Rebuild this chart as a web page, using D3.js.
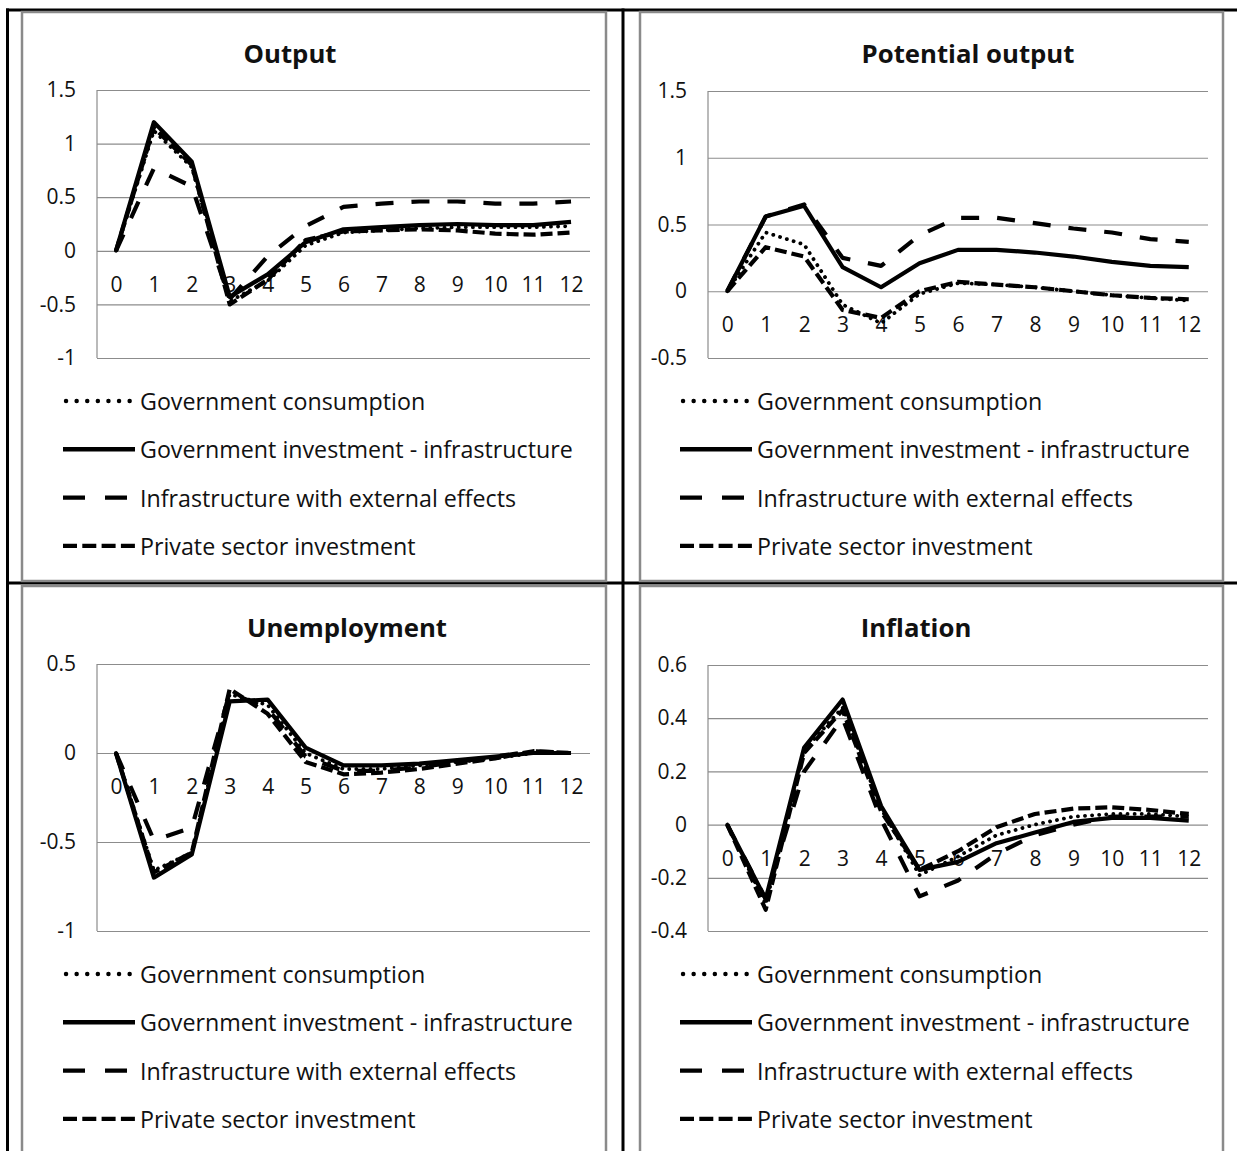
<!DOCTYPE html>
<html><head><meta charset="utf-8">
<script src="https://cdn.jsdelivr.net/npm/d3@7"></script>
<style>
html,body{margin:0;padding:0;background:#fff;}
svg{display:block;}
text{font-family:"Open Sans","Noto Sans",sans-serif;fill:#111;}
</style></head>
<body>
<svg id="c" width="1237" height="1151"></svg>
<script>
// ---------- DATA ----------
const periods = ["0","1","2","3","4","5","6","7","8","9","10","11","12"];
const seriesNames = ["Government consumption","Government investment - infrastructure","Infrastructure with external effects","Private sector investment"];
const panelTitles = ["Output","Potential output","Unemployment","Inflation"];

const outputGovCons   = [0,1.12,0.78,-0.47,-0.28,0.05,0.17,0.19,0.21,0.22,0.22,0.22,0.23];
const outputGovInv    = [0,1.20,0.83,-0.43,-0.22,0.08,0.20,0.22,0.24,0.25,0.24,0.24,0.27];
const outputInfraExt  = [0,0.77,0.60,-0.45,-0.05,0.23,0.41,0.44,0.46,0.46,0.44,0.44,0.46];
const outputPrivate   = [0,1.15,0.80,-0.50,-0.27,0.10,0.18,0.19,0.20,0.19,0.16,0.15,0.17];

const potGovCons      = [0,0.44,0.35,-0.10,-0.24,-0.02,0.06,0.05,0.03,0.00,-0.03,-0.05,-0.07];
const potGovInv       = [0,0.56,0.64,0.18,0.03,0.21,0.31,0.31,0.29,0.26,0.22,0.19,0.18];
const potInfraExt     = [0,0.56,0.65,0.25,0.19,0.42,0.55,0.55,0.51,0.47,0.44,0.39,0.37];
const potPrivate      = [0,0.33,0.26,-0.14,-0.20,0.00,0.07,0.05,0.03,0.00,-0.03,-0.05,-0.06];

const unGovCons       = [0,-0.66,-0.56,0.33,0.27,0.00,-0.09,-0.09,-0.07,-0.05,-0.03,0.00,0.00];
const unGovInv        = [0,-0.70,-0.57,0.29,0.30,0.03,-0.07,-0.07,-0.06,-0.04,-0.02,0.00,0.00];
const unInfraExt      = [0,-0.49,-0.42,0.34,0.25,-0.02,-0.10,-0.10,-0.08,-0.05,-0.02,0.01,0.00];
const unPrivate       = [0,-0.67,-0.56,0.36,0.22,-0.05,-0.12,-0.11,-0.09,-0.06,-0.03,0.01,0.00];

const infGovCons      = [0,-0.30,0.28,0.44,0.06,-0.19,-0.12,-0.04,0.00,0.03,0.04,0.04,0.03];
const infGovInv       = [0,-0.28,0.29,0.47,0.07,-0.17,-0.14,-0.07,-0.03,0.01,0.025,0.025,0.015];
const infInfraExt     = [0,-0.28,0.20,0.40,0.02,-0.27,-0.21,-0.11,-0.04,0.00,0.03,0.03,0.03];
const infPrivate      = [0,-0.32,0.27,0.43,0.05,-0.17,-0.10,-0.01,0.04,0.06,0.065,0.055,0.04];

const outputTicks = ["-1","-0.5","0","0.5","1","1.5"];
const potTicks    = ["-0.5","0","0.5","1","1.5"];
const unTicks     = ["-1","-0.5","0","0.5"];
const infTicks    = ["-0.4","-0.2","0","0.2","0.4","0.6"];

// ---------- LAYOUT ----------
const svg = d3.select("#c");
const styles = [
  {w:3.8, dash:"0.1,7", cap:"round", legDash:"0.1,10.5", legW:4.4},   // dotted
  {w:4.2, dash:null, cap:"butt", legDash:null, legW:4.4},             // solid
  {w:4.2, dash:"18,18", cap:"butt", legDash:"22,20", legW:4.4},       // long dash
  {w:4.2, dash:"12,5", cap:"butt", legDash:"14,5.3", legW:4.4}        // short dash
];

const panels = [
  {title:panelTitles[0], series:[outputGovCons,outputGovInv,outputInfraExt,outputPrivate], ticks:outputTicks,
   frame:[22,12,606,581], titleX:290, titleY:53, px:[97,590], py:[358,90], legX:63, legY:401},
  {title:panelTitles[1], series:[potGovCons,potGovInv,potInfraExt,potPrivate], ticks:potTicks,
   frame:[640,12,1223,581], titleX:968, titleY:53, px:[708,1208], py:[358,91], legX:680, legY:401},
  {title:panelTitles[2], series:[unGovCons,unGovInv,unInfraExt,unPrivate], ticks:unTicks,
   frame:[22,586,606,1160], titleX:347, titleY:627, px:[97,590], py:[931,664], legX:63, legY:974},
  {title:panelTitles[3], series:[infGovCons,infGovInv,infInfraExt,infPrivate], ticks:infTicks,
   frame:[640,586,1223,1160], titleX:916, titleY:627, px:[708,1208], py:[931,665], legX:680, legY:974}
];

// outer table lines
const tbl = svg.append("g").attr("stroke","#000").attr("stroke-width",3);
tbl.append("line").attr("x1",6).attr("x2",1237).attr("y1",10).attr("y2",10);
tbl.append("line").attr("x1",7.5).attr("x2",7.5).attr("y1",8.5).attr("y2",1151);
tbl.append("line").attr("x1",623).attr("x2",623).attr("y1",8.5).attr("y2",1151);
tbl.append("line").attr("x1",6).attr("x2",1237).attr("y1",583).attr("y2",583);

// measure helper for fitting font sizes
function measure(str, size, weight){
  const t = svg.append("text").attr("font-size",size).attr("font-weight",weight||"normal").text(str);
  const w = t.node().getComputedTextLength(); t.remove(); return w;
}
const legendSize = 20 * 433 / measure(seriesNames[1], 20);
const titleSize = 20 * 213 / measure(panelTitles[1], 20, "bold");
const tickSize = 21;

panels.forEach(p => {
  const g = svg.append("g");
  const [fx0,fy0,fx1,fy1] = p.frame;
  g.append("rect").attr("x",fx0).attr("y",fy0).attr("width",fx1-fx0).attr("height",fy1-fy0)
    .attr("fill","#fff").attr("stroke","#8a8a8a").attr("stroke-width",2.5);

  const tickVals = p.ticks.map(Number);
  const x = d3.scalePoint().domain(periods).range(p.px).padding(0.5);
  const y = d3.scaleLinear().domain(d3.extent(tickVals)).range(p.py);

  // gridlines + y labels
  const ya = g.append("g").attr("transform",`translate(${p.px[0]},0)`)
    .call(d3.axisLeft(y).tickValues(tickVals).tickSize(-(p.px[1]-p.px[0])).tickPadding(21)
      .tickFormat((d,i)=>p.ticks[i]));
  ya.select(".domain").remove();
  ya.selectAll(".tick line").attr("stroke","#8c8c8c").attr("stroke-width",1.2);
  ya.selectAll(".tick text").attr("font-size",tickSize).attr("font-family",'"Open Sans",sans-serif').attr("fill","#111");
  // left plot border (vertical axis line)
  g.append("line").attr("x1",p.px[0]).attr("x2",p.px[0]).attr("y1",p.py[1]).attr("y2",p.py[0])
    .attr("stroke","#8c8c8c").attr("stroke-width",1.2);

  // x category labels at zero line
  const xa = g.append("g").attr("transform",`translate(0,${y(0)})`)
    .call(d3.axisBottom(x).tickSize(0).tickPadding(26));
  xa.select(".domain").remove();
  xa.selectAll(".tick text").attr("font-size",tickSize).attr("font-family",'"Open Sans",sans-serif').attr("fill","#111");

  // title
  g.append("text").attr("x",p.titleX).attr("y",p.titleY).attr("text-anchor","middle")
    .attr("dominant-baseline","central").attr("font-weight","bold").attr("font-size",titleSize).text(p.title);

  // series
  const line = d3.line().x((d,i)=>x(periods[i])).y(d=>y(d));
  p.series.forEach((s,k)=>{
    const st = styles[k];
    g.append("path").datum(s).attr("d",line).attr("fill","none").attr("stroke","#000")
      .attr("stroke-width",st.w).attr("stroke-linejoin","round")
      .attr("stroke-linecap",st.cap).attr("stroke-dasharray",st.dash);
  });

  // legend
  seriesNames.forEach((name,k)=>{
    const st = styles[k];
    const ly = p.legY + k*48.3;
    g.append("line").attr("x1",p.legX+(k===0?3:0)).attr("x2",p.legX+72).attr("y1",ly).attr("y2",ly)
      .attr("stroke","#000").attr("stroke-width",st.legW).attr("stroke-linecap",st.cap)
      .attr("stroke-dasharray",st.legDash);
    g.append("text").attr("x",p.legX+77).attr("y",ly).attr("dominant-baseline","central")
      .attr("font-size",legendSize).text(name);
  });
});
</script>
</body></html>
